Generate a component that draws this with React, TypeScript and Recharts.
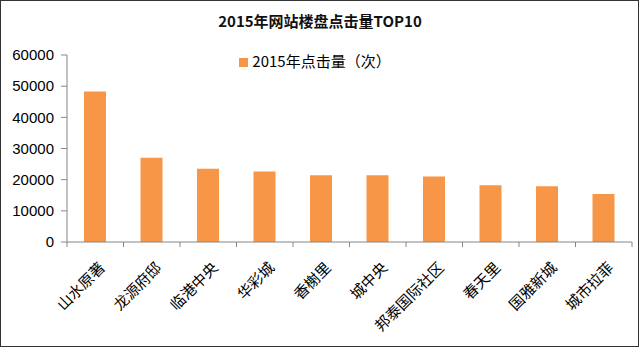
import { Bar, BarChart, Legend, XAxis, YAxis } from "recharts"

const projects = ["山水原著", "龙源府邸", "临港中央", "华彩城", "香榭里", "城中央", "邦泰国际社区", "春天里", "国雅新城", "城市拉菲"]
const clicks = [48300, 27000, 23500, 22600, 21400, 21400, 21000, 18200, 17900, 15400]
const yTicks = [0, 10000, 20000, 30000, 40000, 50000, 60000]

const data = projects.map((name, i) => ({ name, clicks: clicks[i] }))

const W = 640
const H = 355
const LEFT = 67
const RIGHT = 8
const STEP = (W - LEFT - RIGHT) / projects.length

function CategoryTick(props: any) {
  const { x, y, payload, index } = props
  const half = STEP / 2
  const tx = x + 7
  const ty = y + 15
  return (
    <g>
      <line x1={x - half} y1={y - 8} x2={x - half} y2={y - 3} stroke="#868686" />
      {index === projects.length - 1 && (
        <line x1={x + half} y1={y - 8} x2={x + half} y2={y - 3} stroke="#868686" />
      )}
      <text
        x={tx}
        y={ty}
        transform={`rotate(-45, ${tx}, ${ty})`}
        textAnchor="end"
        dy="0.35em"
        fill="#000"
        fontSize={15}
        fontFamily="'Noto Sans CJK SC'"
      >
        {payload.value}
      </text>
    </g>
  )
}

export default function App() {
  return (
    <div style={{ position: "relative", width: W, height: H, background: "#fff" }}>
      <style>{"body{margin:0}"}</style>
      <div
        style={{
          position: "absolute",
          left: 0,
          top: 0,
          width: 639,
          height: 347,
          boxSizing: "border-box",
          border: "1px solid #333",
        }}
      />
      <div
        style={{
          position: "absolute",
          top: 10,
          left: 0,
          width: W,
          textAlign: "center",
          fontFamily: "'Noto Sans CJK SC'",
          fontWeight: 700,
          fontSize: 15,
          color: "#111",
        }}
      >
        2015年网站楼盘点击量TOP10
      </div>
      <BarChart width={W} height={H} data={data} margin={{ top: 55, right: RIGHT, bottom: 0, left: 0 }}>
        <XAxis
          dataKey="name"
          interval={0}
          height={113}
          tickLine={false}
          stroke="#868686"
          tick={<CategoryTick />}
        />
        <YAxis
          width={LEFT}
          domain={[0, 60000]}
          ticks={yTicks}
          interval={0}
          stroke="#868686"
          tickSize={6}
          tickMargin={7}
          tick={{ fill: "#000", fontSize: 15, fontFamily: "'Liberation Sans'" }}
        />
        <Legend
          layout="horizontal"
          verticalAlign="middle"
          align="center"
          iconType="square"
          iconSize={9}
          wrapperStyle={{ top: 50, left: 0, width: W, fontFamily: "'Noto Sans CJK SC'", fontSize: 15 }}
          formatter={(v) => <span style={{ color: "#000" }}>{v}</span>}
        />
        <Bar dataKey="clicks" name="2015年点击量（次）" fill="#F79646" barSize={22} isAnimationActive={false} />
      </BarChart>
    </div>
  )
}
